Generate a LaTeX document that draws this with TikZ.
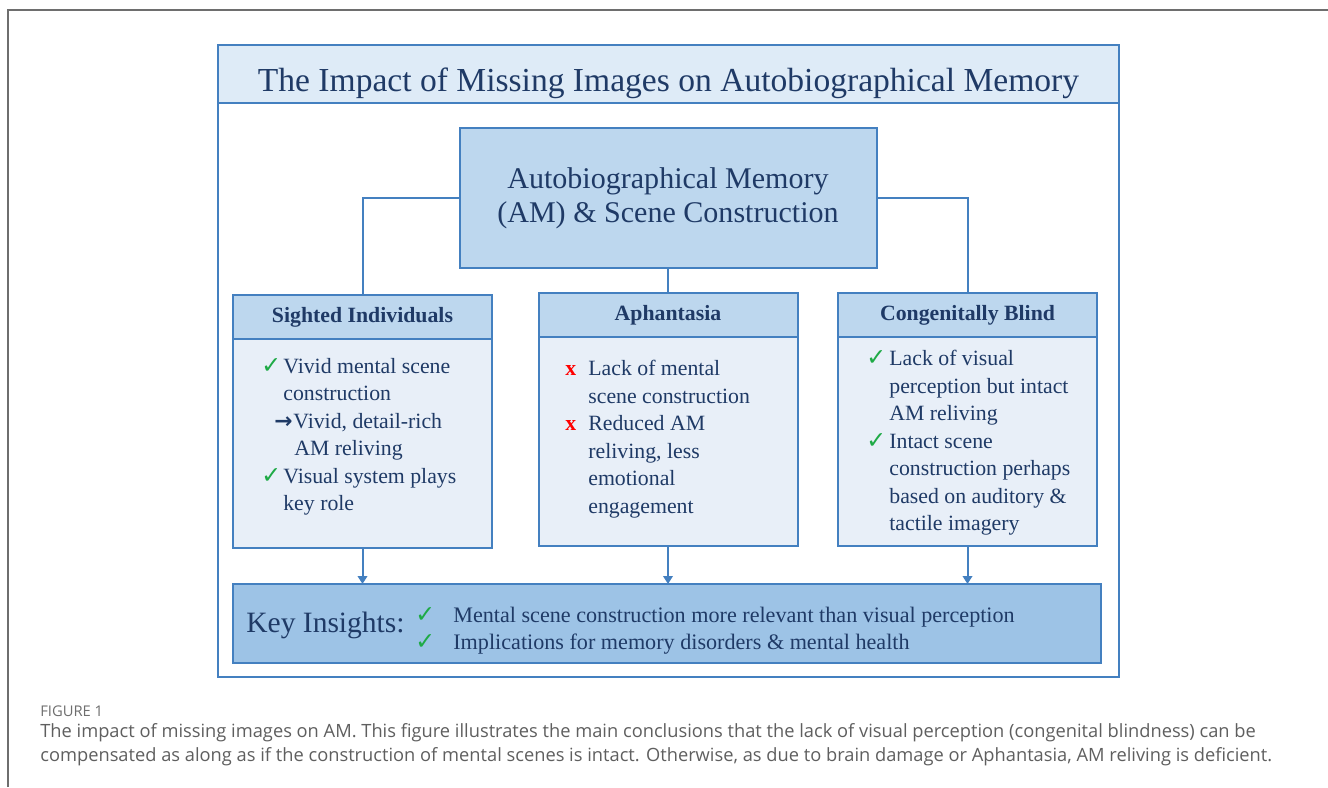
\documentclass[tikz,border=0pt]{standalone}
\usepackage{amssymb}
\usepackage{fontspec}
\setmainfont{Liberation Serif}
\newfontfamily\capfont{Open Sans}
\newfontfamily\symfont{DejaVu Sans}
\usepackage{tikz}
\usetikzlibrary{
    arrows.meta,
    positioning
}

\definecolor{amline}{RGB}{68,128,192}
\definecolor{amtitle}{RGB}{222,235,247}
\definecolor{amhead}{RGB}{189,215,238}
\definecolor{ambody}{RGB}{232,239,248}
\definecolor{amkey}{RGB}{157,195,230}
\definecolor{amtext}{RGB}{31,58,102}
\definecolor{amgreen}{RGB}{30,170,70}
\definecolor{pagegray}{RGB}{110,110,110}
\definecolor{capgray}{RGB}{95,95,95}

\newcommand{\tickmark}{\textcolor{amgreen}{\symfont\fontsize{13.5}{15}\selectfont ✓}}
\newcommand{\crossmark}{\textcolor{red}{\textbf{x}}}
\newcommand{\leadsarrow}{{\symfont\bfseries →}}

\begin{document}
\begin{tikzpicture}[x=0.2mm, y=-0.2mm,
    outline/.style={draw=amline, line width=0.4mm, outer sep=0pt},
    headbox/.style={outline, fill=amhead, minimum width=51.8mm, minimum height=8.8mm, inner sep=0pt,
        text=amtext, font=\bfseries\fontsize{12.4}{15}\selectfont},
    bodybox/.style={outline, fill=ambody, minimum width=51.8mm, minimum height=41.8mm, inner sep=0pt},
    itemtext/.style={anchor=north west, inner sep=0pt, align=left, text=amtext,
        font=\fontsize{12.4}{15.65}\selectfont},
    link/.style={draw=amline, line width=0.4mm},
    down/.style={link, -{Triangle[width=1.9mm, length=1.6mm]}}]
    \path[use as bounding box, fill=white] (0,0) rectangle (1328,787);
    \draw[pagegray, line width=0.4mm] (8,787) |- (1328,10);

    \node[outline, fill=white, minimum width=180.2mm, minimum height=126.4mm] (frame) at (668.5,361) {};
    \node[outline, fill=amtitle, minimum width=180.2mm, minimum height=11.6mm, text=amtext,
        text height=19.4pt, text depth=0pt,
        font=\fontsize{19.1}{23}\selectfont] (title) at (668.5,74) {The Impact of Missing Images on Autobiographical Memory};

    \node[outline, fill=amhead, minimum width=83.4mm, minimum height=28mm, align=center, text=amtext,
        font=\fontsize{17.1}{19.35}\selectfont] (am) at (668,198) {Autobiographical Memory\\(AM) \& Scene Construction};

    \node[headbox] (sighthead) at (362.5,317) {Sighted Individuals};
    \node[headbox] (aphhead) at (668,315) {Aphantasia};
    \node[headbox] (blindhead) at (967.5,315) {Congenitally Blind};
    \node[bodybox, below=0pt of sighthead] (sightbody) {};
    \node[bodybox, below=0pt of aphhead] (aphbody) {};
    \node[bodybox, below=0pt of blindhead] (blindbody) {};

    \node[itemtext] (sighttext) at (261,358) {\makebox[4.4mm][l]{\tickmark}Vivid mental scene\\
        \hspace*{4.4mm}construction\\
        \hspace*{2.6mm}\makebox[3.8mm][l]{\leadsarrow}Vivid, detail-rich\\
        \hspace*{6.6mm}AM reliving\\
        \makebox[4.4mm][l]{\tickmark}Visual system plays\\
        \hspace*{4.4mm}key role};
    \node[itemtext] (aphtext) at (565,360) {\makebox[4.6mm][l]{\crossmark}Lack of mental\\
        \hspace*{4.6mm}scene construction\\
        \makebox[4.6mm][l]{\crossmark}Reduced AM\\
        \hspace*{4.6mm}reliving, less\\
        \hspace*{4.6mm}emotional\\
        \hspace*{4.6mm}engagement};
    \node[itemtext] (blindtext) at (866,350) {\makebox[4.6mm][l]{\tickmark}Lack of visual\\
        \hspace*{4.6mm}perception but intact\\
        \hspace*{4.6mm}AM reliving\\
        \makebox[4.6mm][l]{\tickmark}Intact scene\\
        \hspace*{4.6mm}construction perhaps\\
        \hspace*{4.6mm}based on auditory \&\\
        \hspace*{4.6mm}tactile imagery};

    \node[outline, fill=amkey, minimum width=173.6mm, minimum height=15.8mm] (key) at (667,623.5) {};
    \node[anchor=west, inner sep=0pt, text=amtext, font=\fontsize{16.8}{20}\selectfont] (keylabel) at (246,625) {Key Insights:};
    \node[anchor=west, inner sep=0pt, align=left, text=amtext, font=\fontsize{12.6}{15.4}\selectfont] (keytext) at (415,631)
        {\makebox[7.6mm][l]{\tickmark}Mental scene construction more relevant than visual perception\\
        \makebox[7.6mm][l]{\tickmark}Implications for memory disorders \& mental health};

    \draw[link] (am.west) -| (sighthead.north);
    \draw[link] (am.east) -| (blindhead.north);
    \draw[link] (am.south) -- (aphhead.north);
    \draw[down] (sightbody.south) -- (sightbody.south |- key.north);
    \draw[down] (aphbody.south) -- (aphbody.south |- key.north);
    \draw[down] (blindbody.south) -- (blindbody.south |- key.north);

    \node[anchor=west, inner sep=0pt, text=pagegray, font=\capfont\fontsize{8.4}{10}\selectfont] (figlabel) at (40,711) {FIGURE 1};
    \node[anchor=north west, inner sep=0pt, align=left, text=capgray, font=\capfont\fontsize{10.4}{13.7}\selectfont] (caption) at (40,723)
        {The impact of missing images on AM. This figure illustrates the main conclusions that the lack of visual perception (congenital blindness) can be\\
        compensated as along as if the construction of mental scenes is intact. Otherwise, as due to brain damage or Aphantasia, AM reliving is deficient.};
\end{tikzpicture}
\end{document}
